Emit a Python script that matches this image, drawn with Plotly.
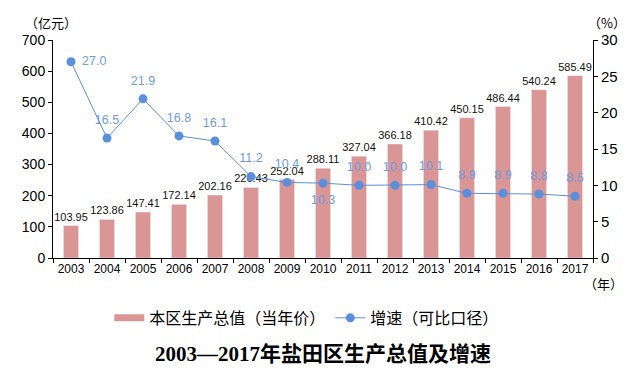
import plotly.graph_objects as go

years = ["2003", "2004", "2005", "2006", "2007", "2008", "2009", "2010",
         "2011", "2012", "2013", "2014", "2015", "2016", "2017"]
gdp = [103.95, 123.86, 147.41, 172.14, 202.16, 226.43, 252.04, 288.11,
       327.04, 366.18, 410.42, 450.15, 486.44, 540.24, 585.49]
growth = [27.0, 16.5, 21.9, 16.8, 16.1, 11.2, 10.4, 10.3,
          10.0, 10.0, 10.1, 8.9, 8.9, 8.8, 8.5]
gdp_name = "本区生产总值（当年价）"
growth_name = "增速（可比口径）"
title_text = "2003—2017年盐田区生产总值及增速"

bar_color = "#D99694"
line_color = "#5A8FDB"
label_blue = "#6E9BE0"
font_main = "Liberation Sans, Arial, Noto Sans CJK SC"
font_cjk = "Noto Sans CJK SC, Liberation Sans"

growth_pos = ["middle right"] + ["top center"] * 6 + ["bottom center"] + ["top center"] * 7

fig = go.Figure()
fig.add_trace(go.Bar(
    x=years, y=gdp, name=gdp_name, marker_color=bar_color, width=0.42,
    text=[f"{v:.2f}" for v in gdp], textposition="outside", constraintext="none",
    textfont=dict(size=11, color="#111111", family=font_main),
    cliponaxis=False, showlegend=False, yaxis="y",
))
# legend proxy for the bar series (wide swatch)
fig.add_trace(go.Scatter(
    x=[None], y=[None], mode="lines", name=gdp_name,
    line=dict(color=bar_color, width=7), yaxis="y",
))
fig.add_trace(go.Scatter(
    x=years, y=growth, name=growth_name, yaxis="y2",
    mode="lines+markers",
    line=dict(color=line_color, width=1),
    marker=dict(color=line_color, size=9),
    cliponaxis=False,
))
# growth value labels (invisible larger markers give a wider text offset)
fig.add_trace(go.Scatter(
    x=years, y=growth, yaxis="y2", mode="markers+text", showlegend=False,
    hoverinfo="skip", marker=dict(size=16, color="rgba(0,0,0,0)"),
    text=[f"{v:.1f}" for v in growth], textposition=growth_pos,
    textfont=dict(size=12.5, color=label_blue, family=font_main),
    cliponaxis=False,
))

fig.update_layout(
    width=630, height=371,
    margin=dict(l=45, r=45, t=32, b=121),
    paper_bgcolor="white", plot_bgcolor="white",
    font=dict(family=font_main, color="black"),
    xaxis=dict(
        type="category", showgrid=False, showline=True, linecolor="black", linewidth=1,
        ticks="outside", tickson="boundaries", ticklen=4, tickcolor="black",
        tickfont=dict(size=12, family=font_main), tickangle=0, range=[-0.5, 14.5],
    ),
    yaxis=dict(
        range=[0, 700], dtick=100, showgrid=False, zeroline=False,
        showline=True, linecolor="black", linewidth=1,
        ticks="outside", ticklen=4, tickcolor="black",
        tickfont=dict(size=14, family=font_main),
    ),
    yaxis2=dict(
        range=[0, 30], dtick=5, overlaying="y", side="right", showgrid=False,
        zeroline=False, showline=True, linecolor="black", linewidth=1,
        ticks="outside", ticklen=4, tickcolor="black",
        tickfont=dict(size=15, family=font_main),
    ),
    legend=dict(
        orientation="h", x=0.47, xanchor="center", y=-0.275, yanchor="middle",
        font=dict(size=16, family=font_cjk), tracegroupgap=0,
        bgcolor="rgba(0,0,0,0)",
    ),
    title=dict(
        text=f"<b>{title_text}</b>", x=0.5, xanchor="center",
        yref="container", y=0.067, yanchor="middle",
        font=dict(size=21, family="Liberation Serif, Noto Sans CJK SC", color="black"),
    ),
    annotations=[
        dict(text="（亿元）", xref="paper", yref="paper", x=-0.004, y=1.078,
             xanchor="center", yanchor="middle", showarrow=False,
             font=dict(size=13, family=font_cjk)),
        dict(text="（%）", xref="paper", yref="paper", x=1.026, y=1.078,
             xanchor="center", yanchor="middle", showarrow=False,
             font=dict(size=13, family=font_cjk)),
        dict(text="（年）", xref="paper", yref="paper", x=1.02, y=-0.115,
             xanchor="center", yanchor="middle", showarrow=False,
             font=dict(size=13, family=font_cjk)),
    ],
)

fig.write_html("out.html")
